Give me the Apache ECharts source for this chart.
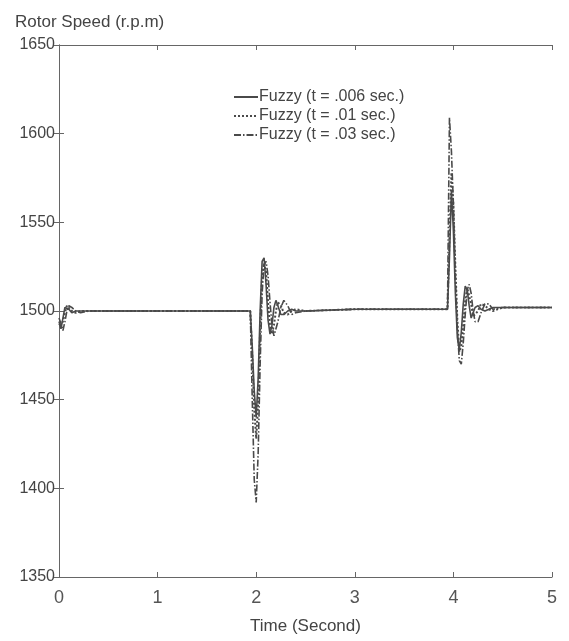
<!DOCTYPE html>
<html>
<head>
<meta charset="utf-8">
<title>Rotor Speed</title>
<script src="https://cdn.jsdelivr.net/npm/echarts@6.0.0/dist/echarts.min.js"></script>
<style>
  html, body {
    margin: 0;
    padding: 0;
    background: #fff;
  }
  #speedChart {
    width: 569px;
    height: 641px;
  }
</style>
</head>
<body>
<div id="speedChart"></div>
<script>
// time stamps (seconds) shared by the three responses
const times = [
  0, 0.02, 0.04, 0.06, 0.08, 0.1, 0.13, 0.17, 0.22, 0.3, 1.0, 1.9,
  1.94, 1.96, 1.98, 2.0, 2.02, 2.04, 2.06, 2.08, 2.1, 2.12, 2.14, 2.16, 2.18,
  2.2, 2.22, 2.25, 2.28, 2.32, 2.36, 2.4, 2.5, 3.0, 3.9,
  3.94, 3.96, 3.98, 4.0, 4.02, 4.04, 4.06, 4.08, 4.1, 4.12, 4.14, 4.16, 4.18,
  4.2, 4.22, 4.25, 4.28, 4.32, 4.36, 4.4, 4.5, 5.0
];

// rotor speed (r.p.m) for each fuzzy controller
const speed006 = [
  1494, 1490, 1496, 1502, 1503, 1501, 1499, 1500, 1500, 1500, 1500, 1500,
  1500, 1480, 1455, 1440, 1462, 1500, 1528, 1530, 1515, 1495, 1487, 1492, 1502,
  1506, 1503, 1498, 1498, 1500, 1501, 1500, 1500, 1501, 1501,
  1501, 1530, 1568, 1545, 1510, 1485, 1478, 1488, 1504, 1514, 1512, 1503, 1496,
  1497, 1502, 1503, 1501, 1500, 1501, 1502, 1502, 1502
];
const speed01 = [
  1492, 1491, 1494, 1499, 1503, 1503, 1500, 1499, 1500, 1500, 1500, 1500,
  1500, 1475, 1445, 1428, 1448, 1490, 1520, 1527, 1522, 1505, 1492, 1487, 1492,
  1500, 1505, 1503, 1499, 1498, 1500, 1501, 1500, 1501, 1501,
  1501, 1540, 1578, 1560, 1525, 1495, 1477, 1480, 1492, 1506, 1513, 1512, 1504,
  1497, 1496, 1500, 1504, 1503, 1501, 1500, 1502, 1502
];
const speed03 = [
  1496, 1493, 1489, 1494, 1500, 1503, 1502, 1500, 1499, 1500, 1500, 1500,
  1500, 1450, 1405, 1392, 1420, 1470, 1510, 1526, 1528, 1520, 1505, 1492, 1486,
  1487, 1494, 1502, 1506, 1503, 1498, 1499, 1500, 1501, 1501,
  1501, 1609, 1590, 1560, 1520, 1490, 1472, 1470, 1482, 1498, 1512, 1515, 1510,
  1500, 1494, 1494, 1499, 1504, 1504, 1501, 1502, 1502
];

const seriesNames = [
  'Fuzzy (t = .006 sec.)',
  'Fuzzy (t = .01 sec.)',
  'Fuzzy (t = .03 sec.)'
];
const xTicks = ['0', '1', '2', '3', '4', '5'];

const chartDom = document.getElementById('speedChart');
const chart = echarts.init(chartDom);

const pair = (vals) => times.map((t, i) => [t, vals[i]]);
const lineColor = '#4a4a4a';
const narrowFont = '"Liberation Sans Narrow", "Arial Narrow", "Liberation Sans", sans-serif';

const option = {
  backgroundColor: '#ffffff',
  animation: false,
  title: {
    text: 'Rotor Speed (r.p.m)',
    left: 10,
    top: 9,
    textStyle: {
      fontFamily: narrowFont,
      fontSize: 17,
      fontWeight: 'normal',
      color: '#444'
    }
  },
  legend: {
    orient: 'vertical',
    left: 228,
    top: 84,
    itemWidth: 24,
    itemHeight: 10,
    itemGap: 3,
    data: seriesNames,
    itemStyle: { opacity: 0 },
    textStyle: {
      fontFamily: narrowFont,
      fontSize: 16,
      color: '#444',
      padding: [0, 0, 0, -4]
    }
  },
  grid: {
    left: 59,
    right: 17,
    top: 45,
    bottom: 64
  },
  xAxis: [
    {
      type: 'value',
      min: 0,
      max: 5,
      interval: 1,
      name: 'Time (Second)',
      nameLocation: 'middle',
      nameGap: 41,
      nameTextStyle: {
        fontFamily: narrowFont,
        fontSize: 17,
        color: '#444'
      },
      axisLine: { lineStyle: { color: '#666' } },
      axisTick: { inside: true, length: 5, lineStyle: { color: '#666' } },
      axisLabel: {
        margin: 12,
        fontFamily: '"Liberation Sans", Arial, sans-serif',
        fontSize: 18,
        color: '#555',
        formatter: (v) => xTicks[Math.round(v)]
      },
      splitLine: { show: false }
    },
    {
      type: 'value',
      position: 'top',
      min: 0,
      max: 5,
      interval: 1,
      axisLine: { show: true, lineStyle: { color: '#666' } },
      axisTick: { show: true, inside: true, length: 5, lineStyle: { color: '#666' } },
      axisLabel: { show: false },
      splitLine: { show: false }
    }
  ],
  yAxis: [
    {
      type: 'value',
      min: 1350,
      max: 1650,
      interval: 50,
      axisLine: { show: true, lineStyle: { color: '#666' } },
      axisTick: { show: true, inside: true, length: 5, lineStyle: { color: '#666' } },
      axisLabel: {
        margin: 4,
        fontFamily: narrowFont,
        fontSize: 16,
        color: '#444',
        formatter: (v) => String(v)
      },
      splitLine: { show: false }
    },
    {
      type: 'value',
      position: 'right',
      min: 1350,
      max: 1650,
      interval: 50,
      axisLine: { show: true, lineStyle: { color: '#666' } },
      axisTick: { show: true, inside: true, length: 5, lineStyle: { color: '#666' } },
      axisLabel: { show: false },
      splitLine: { show: false }
    }
  ],
  series: [
    {
      name: seriesNames[0],
      type: 'line',
      symbol: 'none',
      data: pair(speed006),
      lineStyle: { color: lineColor, width: 1.6, type: 'solid' },
      itemStyle: { color: lineColor }
    },
    {
      name: seriesNames[1],
      type: 'line',
      symbol: 'none',
      data: pair(speed01),
      lineStyle: { color: lineColor, width: 2, type: 'dotted' },
      itemStyle: { color: lineColor }
    },
    {
      name: seriesNames[2],
      type: 'line',
      symbol: 'none',
      data: pair(speed03),
      lineStyle: { color: lineColor, width: 1.6, type: [7, 2, 1.5, 2] },
      itemStyle: { color: lineColor }
    }
  ]
};

option && chart.setOption(option);
</script>
</body>
</html>
